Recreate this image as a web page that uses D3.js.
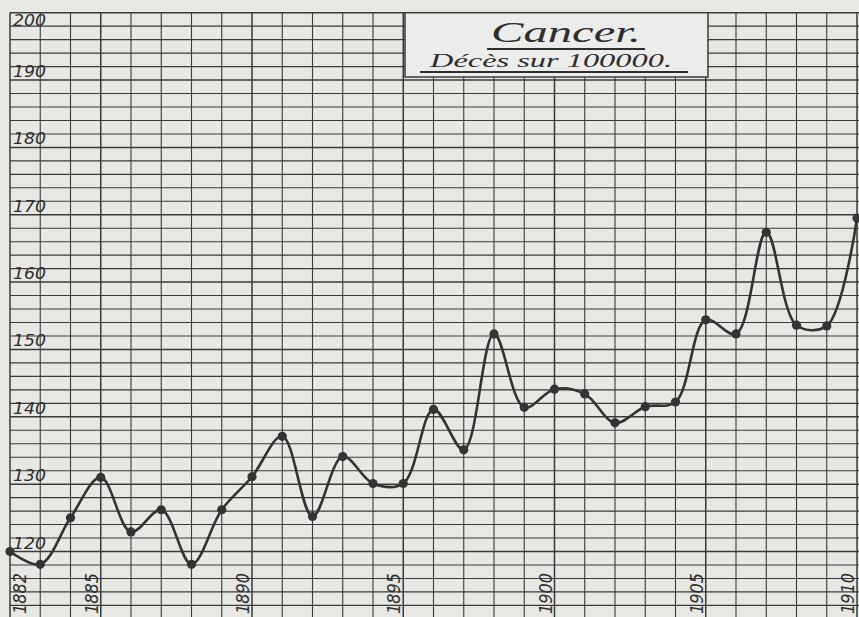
<!DOCTYPE html>
<html><head><meta charset="utf-8">
<script src="https://cdn.jsdelivr.net/npm/d3@7"></script>
<style>
html,body{margin:0;padding:0;background:#e7e7e4;}
svg{display:block;}
</style></head>
<body>
<script>
const years = [1882,1883,1884,1885,1886,1887,1888,1889,1890,1891,1892,1893,1894,1895,1896,1897,1898,1899,1900,1901,1902,1903,1904,1905,1906,1907,1908,1909,1910];
const deaths = [120.0,118.1,125.0,131.0,122.9,126.2,118.1,126.2,131.1,137.1,125.2,134.1,130.1,130.1,141.1,135.1,152.3,141.4,144.1,143.4,139.1,141.5,142.2,154.4,152.3,167.4,153.6,153.5,169.5];
const yTicks = [120,130,140,150,160,170,180,190,200];
const xTicks = [1882,1885,1890,1895,1900,1905,1910];
const title = "Cancer.";
const subtitle = "Décès sur 100000.";

const W = 859, H = 617;
const svg = d3.select("body").append("svg").attr("width", W).attr("height", H);
svg.append("rect").attr("width", W).attr("height", H).attr("fill", "#e7e7e4");

const x = d3.scaleLinear().domain([1882, 1910]).range([10, 857]);
const y = d3.scaleLinear().domain([120, 200]).range([551.5, 12.7]);

const ink = "#3a3a3a";
const grid = svg.append("g");
d3.range(110, 201, 2).forEach(v => {
  grid.append("line").attr("x1", 10).attr("x2", W).attr("y1", y(v)).attr("y2", y(v))
    .attr("stroke", ink).attr("stroke-width", v % 10 === 0 ? 1.5 : 1.1);
});
d3.range(1882, 1911).forEach(yr => {
  grid.append("line").attr("x1", x(yr)).attr("x2", x(yr)).attr("y1", y(200)).attr("y2", H)
    .attr("stroke", ink).attr("stroke-width", (yr % 5 === 0 || yr === 1882) ? 1.5 : 1.1);
});

// title box
const bx0 = 405, bx1 = 708, by0 = y(200), by1 = 77;
svg.append("rect").attr("x", bx0).attr("y", by0).attr("width", bx1 - bx0).attr("height", by1 - by0)
  .attr("fill", "#ececea").attr("stroke", ink).attr("stroke-width", 1.5);
svg.append("text").attr("x", 566).attr("y", 42).attr("text-anchor", "middle")
  .attr("font-family", "Liberation Serif").attr("font-style", "italic").attr("font-size", 30)
  .attr("fill", "#2e2e2e").attr("textLength", 150).attr("lengthAdjust", "spacingAndGlyphs").text(title);
svg.append("line").attr("x1", 487).attr("x2", 645).attr("y1", 49).attr("y2", 49).attr("stroke", "#2e2e2e").attr("stroke-width", 1.8);
svg.append("text").attr("x", 430).attr("y", 67)
  .attr("font-family", "Liberation Serif").attr("font-style", "italic").attr("font-size", 19)
  .attr("fill", "#2e2e2e").attr("textLength", 242).attr("lengthAdjust", "spacingAndGlyphs").text(subtitle);
svg.append("line").attr("x1", 420).attr("x2", 688).attr("y1", 72).attr("y2", 72).attr("stroke", "#2e2e2e").attr("stroke-width", 1.8);

// y labels
svg.append("g").selectAll("text").data(yTicks).join("text")
  .attr("x", 13).attr("y", d => d === 200 ? y(d) + 13 : y(d) - 3)
  .attr("font-family", "DejaVu Sans").attr("font-style", "italic").attr("font-size", 16)
  .attr("fill", "#2e2e2e").attr("textLength", 33).attr("lengthAdjust", "spacingAndGlyphs").text(d => d);

// x labels (rotated)
svg.append("g").selectAll("text").data(xTicks).join("text")
  .attr("transform", d => `translate(${d === 1882 ? x(d) + 16 : x(d) - 3},614) rotate(-90)`)
  .attr("font-family", "DejaVu Sans").attr("font-style", "italic").attr("font-size", 17)
  .attr("fill", "#2e2e2e").attr("textLength", 41).attr("lengthAdjust", "spacingAndGlyphs").text(d => d);

// line
const data = years.map((yr, i) => ({yr, v: deaths[i]}));
const line = d3.line().x(d => x(d.yr)).y(d => y(d.v)).curve(d3.curveCatmullRom.alpha(0.5));
svg.append("path").datum(data).attr("d", line).attr("fill", "none")
  .attr("stroke", "#333").attr("stroke-width", 2.6);
svg.append("g").selectAll("circle").data(data).join("circle")
  .attr("cx", d => x(d.yr)).attr("cy", d => y(d.v)).attr("r", 4.6).attr("fill", "#333");
</script>
</body></html>
